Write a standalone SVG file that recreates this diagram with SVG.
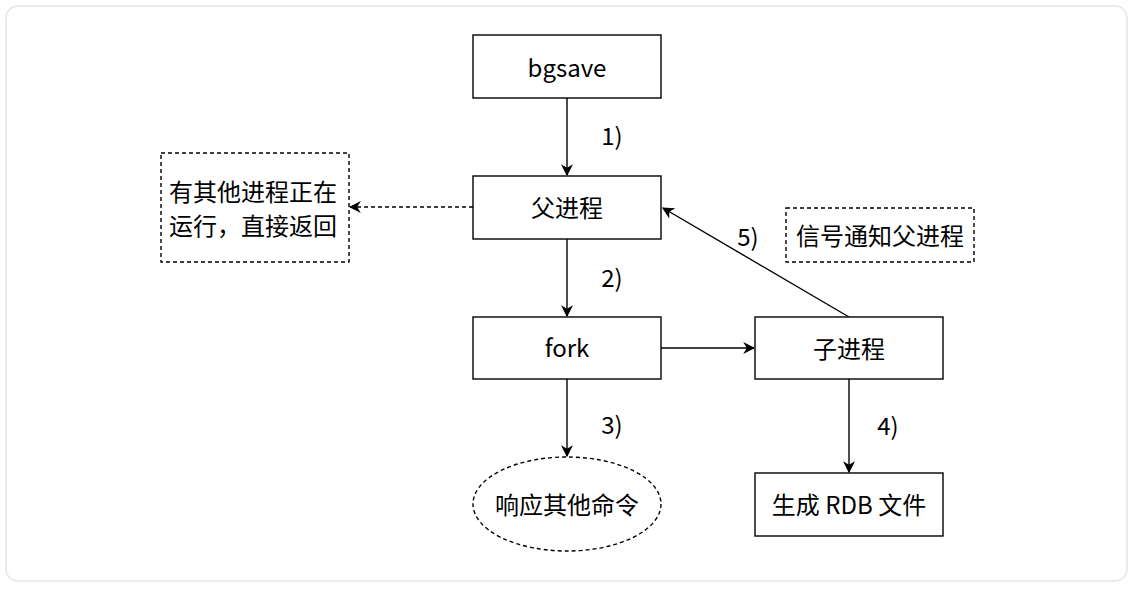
<svg xmlns="http://www.w3.org/2000/svg" width="1133" height="590" viewBox="0 0 1133 590">
<style>
.box{fill:#fff;stroke:#000;stroke-width:1.4}
.dash{fill:#fff;stroke:#000;stroke-width:1.4;stroke-dasharray:4 3}
.t{font-family:"Noto Sans CJK SC","Noto Sans",sans-serif;font-size:24px;fill:#000;text-anchor:middle;dominant-baseline:central}
.c{fill:none;stroke:#000;stroke-width:1.4}
</style>
<defs>
<marker id="ah" viewBox="0 0 10 10" refX="9" refY="5" markerWidth="12" markerHeight="12" markerUnits="userSpaceOnUse" orient="auto">
<path d="M0,0 L10,5 L0,10 L3,5 Z" fill="#000"/>
</marker>
</defs>
<rect x="6" y="6" width="1121" height="575" rx="12" fill="#fff" stroke="#e5e5e5" stroke-width="1.5"/>
<g id="connectors">
<line class="c" x1="567" y1="98" x2="567" y2="175" marker-end="url(#ah)"/>
<line class="c" x1="567" y1="239" x2="567" y2="316" marker-end="url(#ah)"/>
<line class="c" x1="567" y1="379" x2="567" y2="456" marker-end="url(#ah)"/>
<line class="c" x1="661" y1="348" x2="754" y2="348" marker-end="url(#ah)"/>
<line class="c" x1="849" y1="379" x2="849" y2="472" marker-end="url(#ah)"/>
<line class="c" x1="849" y1="317" x2="663" y2="208" marker-end="url(#ah)"/>
<line class="c" x1="473" y1="207" x2="350" y2="207" stroke-dasharray="4 3" marker-end="url(#ah)"/>
<text class="t" x="612" y="134">1)</text>
<text class="t" x="612" y="276">2)</text>
<text class="t" x="612" y="423">3)</text>
<text class="t" x="888" y="424">4)</text>
<text class="t" x="748" y="235">5)</text>
</g>
<g id="bgsave"><rect class="box" x="473" y="35" width="188" height="63"/><text class="t" x="567" y="66">bgsave</text></g>
<g id="parent"><rect class="box" x="473" y="176" width="188" height="63"/><text class="t" x="567" y="206">父进程</text></g>
<g id="fork"><rect class="box" x="473" y="317" width="188" height="62"/><text class="t" x="567" y="346">fork</text></g>
<g id="child"><rect class="box" x="755" y="317" width="188" height="62"/><text class="t" x="849" y="347">子进程</text></g>
<g id="rdb"><rect class="box" x="755" y="473" width="188" height="63"/><text class="t" x="849" y="503">生成 RDB 文件</text></g>
<g id="respond"><ellipse class="dash" cx="567" cy="504" rx="94" ry="47"/><text class="t" x="567" y="503">响应其他命令</text></g>
<g id="running"><rect class="dash" x="161" y="153" width="188" height="109"/><text class="t" x="253" y="190">有其他进程正在</text><text class="t" x="253" y="224">运行，直接返回</text></g>
<g id="signal"><rect class="dash" x="786" y="208" width="188" height="54"/><text class="t" x="880" y="234">信号通知父进程</text></g>
</svg>
